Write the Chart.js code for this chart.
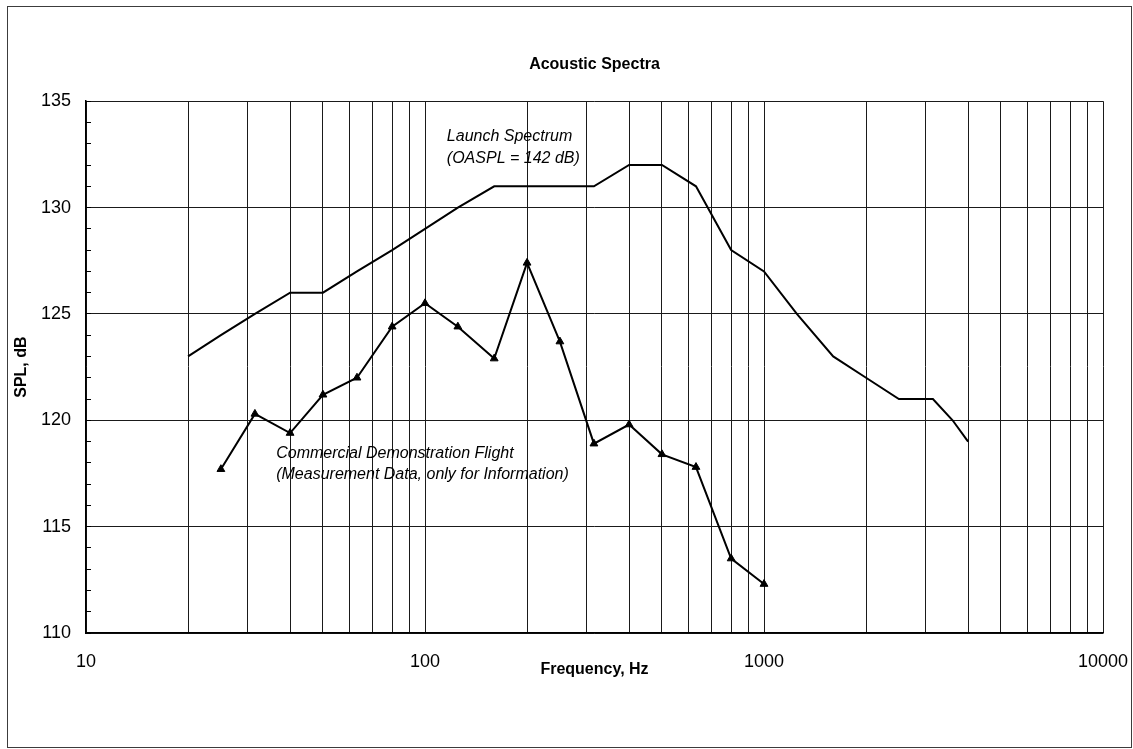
<!DOCTYPE html>
<html>
<head>
<meta charset="utf-8">
<script src="https://cdn.jsdelivr.net/npm/chart.js@4"></script>
<style>
  html, body { margin: 0; padding: 0; background: #fff; }
  canvas { display: block; }
</style>
</head>
<body>
<canvas id="spectra" width="1133" height="749"></canvas>
<script>
// Launch spectrum (1/3 octave, no markers)
const launchFreq = [20, 25, 31.5, 40, 50, 63, 80, 100, 125, 160, 200, 250, 315, 400, 500, 630, 800, 1000, 1250, 1600, 2000, 2500, 3150, 3600, 4000];
const launchSpl  = [123, 124, 125, 126, 126, 127, 128, 129, 130, 131, 131, 131, 131, 132, 132, 131, 128, 127, 125, 123, 122, 121, 121, 120, 119];

// Commercial demonstration flight measurements (triangles)
const flightFreq = [25, 31.5, 40, 50, 63, 80, 100, 125, 160, 200, 250, 315, 400, 500, 630, 800, 1000];
const flightSpl  = [117.7, 120.3, 119.4, 121.2, 122.0, 124.4, 125.5, 124.4, 122.9, 127.4, 123.7, 118.9, 119.8, 118.4, 117.8, 113.5, 112.3];

// x grid lines / tick labels
const freqGrid = [10, 20, 30, 40, 50, 60, 70, 80, 90,
                  100, 200, 300, 400, 500, 600, 700, 800, 900,
                  1000, 2000, 3000, 4000, 5000, 6000, 7000, 8000, 9000, 10000];
const freqLabels = [10, 100, 1000, 10000];
const splLabels = [110, 115, 120, 125, 130, 135];

// text notes, anchored in data units
const launchNote = ['Launch Spectrum', '(OASPL = 142 dB)'];
const launchNoteAt = { x: 116, y: 133.33 };
const flightNote = ['Commercial Demonstration Flight', '(Measurement Data, only for Information)'];
const flightNoteAt = { x: 36.4, y: 118.45 };

const FONT = "'Liberation Sans', Arial, Helvetica, sans-serif";

const toPoints = (xs, ys) => xs.map((x, i) => ({ x, y: ys[i] }));

// outer frame + white background
const framePlugin = {
    id: 'frame',
    beforeDraw(chart) {
        const ctx = chart.ctx;
        ctx.save();
        ctx.fillStyle = '#fff';
        ctx.fillRect(0, 0, chart.width, chart.height);
        ctx.strokeStyle = '#3c3c3c';
        ctx.lineWidth = 1;
        ctx.strokeRect(7.5, 6.5, 1124, 741);
        ctx.restore();
    }
};

// italic notes next to the curves
const notesPlugin = {
    id: 'notes',
    afterDatasetsDraw(chart) {
        const { ctx, scales: { x, y } } = chart;
        ctx.save();
        ctx.font = 'italic 16px ' + FONT;
        ctx.fillStyle = '#000';
        ctx.textAlign = 'left';
        ctx.textBaseline = 'middle';
        [[launchNote, launchNoteAt], [flightNote, flightNoteAt]].forEach(([lines, at]) => {
            const px = x.getPixelForValue(at.x);
            const py = y.getPixelForValue(at.y);
            lines.forEach((t, i) => ctx.fillText(t, px, py + i * 21.5));
        });
        ctx.restore();
    }
};

new Chart(document.getElementById('spectra'), {
    type: 'line',
    data: {
        datasets: [
            {
                label: 'Launch Spectrum',
                data: toPoints(launchFreq, launchSpl),
                borderColor: '#000',
                borderWidth: 2,
                pointRadius: 0,
                tension: 0
            },
            {
                label: 'Commercial Demonstration Flight',
                data: toPoints(flightFreq, flightSpl),
                borderColor: '#000',
                backgroundColor: '#000',
                borderWidth: 2,
                pointStyle: 'triangle',
                pointRadius: 4.5,
                pointBorderWidth: 1,
                tension: 0
            }
        ]
    },
    options: {
        responsive: false,
        animation: false,
        events: [],
        layout: { padding: { left: 0, right: 30, top: 0, bottom: 0 } },
        plugins: {
            legend: { display: false },
            tooltip: { enabled: false },
            title: {
                display: true,
                fullSize: false,   // center over the plot area
                text: 'Acoustic Spectra',
                color: '#000',
                font: { family: FONT, size: 16, weight: 'bold', lineHeight: 1.2 },
                padding: { top: 55, bottom: 27 }
            }
        },
        scales: {
            x: {
                type: 'logarithmic',
                min: 10,
                max: 10000,
                afterBuildTicks: scale => {
                    scale.ticks = freqGrid.map(v => ({ value: v }));
                },
                afterFit: scale => {
                    scale.height = 116;
                    // keep the plot edge fixed; labels may hang into the padding
                    scale.paddingLeft = 0;
                    scale.paddingRight = 0;
                },
                ticks: {
                    autoSkip: false,
                    maxRotation: 0,
                    padding: 18,
                    color: '#000',
                    font: { family: FONT, size: 18 },
                    callback: v => freqLabels.includes(v) ? String(v) : ''
                },
                grid: { color: '#1a1a1a', lineWidth: 1, drawTicks: false },
                border: { display: true, color: '#000', width: 1.5 },
                title: {
                    display: true,
                    text: 'Frequency, Hz',
                    color: '#000',
                    font: { family: FONT, size: 16, weight: 'bold', lineHeight: 1.2 },
                    padding: { top: 0, bottom: 70 }
                }
            },
            y: {
                min: 110,
                max: 135,
                afterFit: scale => { scale.width = 86; },
                ticks: {
                    stepSize: 1,
                    autoSkip: false,
                    padding: 20,
                    color: '#000',
                    font: { family: FONT, size: 18 },
                    callback: v => splLabels.includes(v) ? String(v) : ''
                },
                grid: {
                    // major lines every 5 dB, short inward ticks every 1 dB
                    color: c => c.tick && c.tick.value % 5 === 0 ? '#1a1a1a' : 'rgba(0,0,0,0)',
                    lineWidth: 1,
                    drawTicks: true,
                    tickLength: -5,
                    tickColor: '#000',
                    tickWidth: 1
                },
                border: { display: true, color: '#000', width: 1.5 },
                title: {
                    display: true,
                    text: 'SPL, dB',
                    color: '#000',
                    font: { family: FONT, size: 16, weight: 'bold', lineHeight: 1.2 },
                    padding: { top: 12, bottom: 0 }
                }
            }
        }
    },
    plugins: [framePlugin, notesPlugin]
});
</script>
</body>
</html>
